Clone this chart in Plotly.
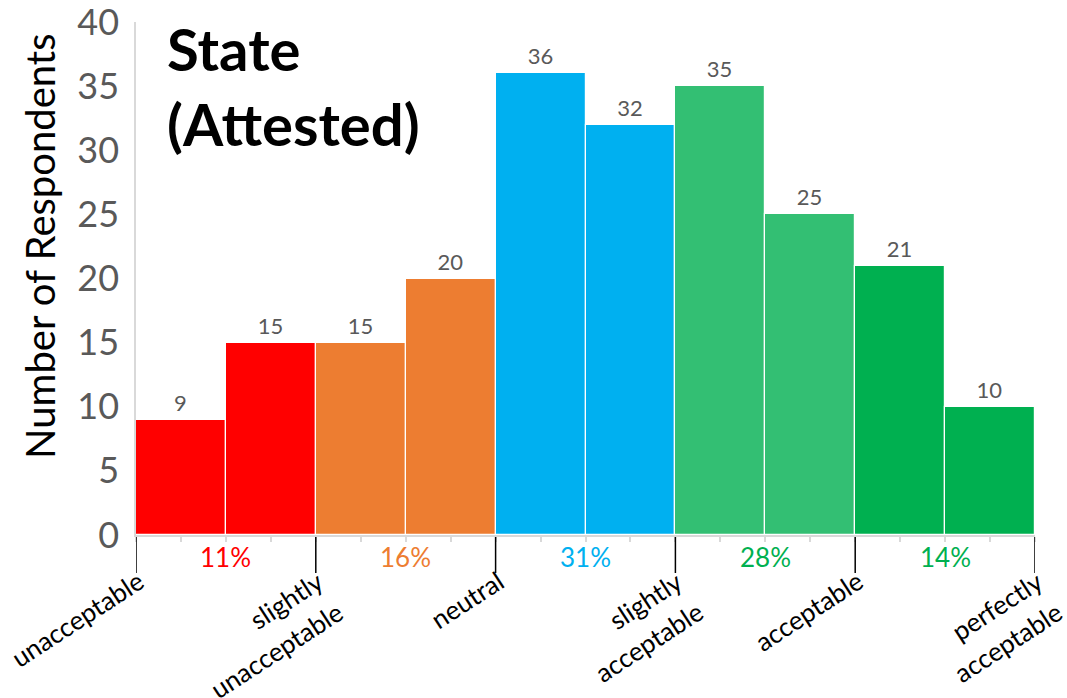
import plotly.graph_objects as go

# ---- data ----
bin_left = [0, 1, 2, 3, 4, 5, 6, 7, 8, 9]
counts = [9, 15, 15, 20, 36, 32, 35, 25, 21, 10]
bar_colors = ["#FF0000", "#FF0000", "#ED7D31", "#ED7D31", "#00B0F0",
              "#00B0F0", "#33BF73", "#33BF73", "#00B050", "#00B050"]
group_pct = ["11%", "16%", "31%", "28%", "14%"]
group_pct_colors = ["#FF0000", "#ED7D31", "#00B0F0", "#00B050", "#00B050"]
boundary_labels = [["unacceptable"], ["slightly", "unacceptable"], ["neutral"],
                   ["slightly", "acceptable"], ["acceptable"], ["perfectly", "acceptable"]]
y_ticks = [0, 5, 10, 15, 20, 25, 30, 35, 40]
title_text = "State<br>(Attested)"
y_title = "Number of Respondents"

FONT = "Lato"
W, H = 1067, 698
ML, MR, MT, MB = 136, 32, 22, 163
plot_w = W - ML - MR
plot_h = H - MT - MB

xc = [b + 0.5 for b in bin_left]
n_bins = len(bin_left)

fig = go.Figure()
fig.add_trace(go.Bar(
    x=xc, y=counts, width=1,
    marker=dict(color=bar_colors, line=dict(color="white", width=1.2)),
    text=[str(v) for v in counts], textposition="outside",
    textfont=dict(family=FONT, size=22, color="#595959"),
    cliponaxis=False, hoverinfo="skip",
))

shapes = []
annotations = []
major = list(range(0, n_bins + 1, 2))
ANGLE = 33
LINE_STEP_X, LINE_STEP_Y = 20, 31
for i, m in enumerate(major):
    shapes.append(dict(type="line", xref="x", yref="paper", x0=m, x1=m,
                       y0=-2 / plot_h, y1=-38 / plot_h,
                       line=dict(color="black", width=1.5)))
    for k, line in enumerate(boundary_labels[i]):
        annotations.append(dict(
            x=m, y=-38 / plot_h, xref="x", yref="paper",
            text=line, showarrow=False, textangle=-ANGLE,
            xanchor="right", yanchor="top",
            xshift=16 + k * LINE_STEP_X, yshift=11 - k * LINE_STEP_Y,
            font=dict(family=FONT, size=26, color="black")))

for g in range(len(group_pct)):
    annotations.append(dict(
        x=major[g] + 1, y=-22 / plot_h, xref="x", yref="paper",
        text=group_pct[g], showarrow=False, xanchor="center", yanchor="middle",
        font=dict(family=FONT, size=26, color=group_pct_colors[g])))

annotations.append(dict(
    x=(165 - ML) / plot_w, y=(plot_h + 10) / plot_h, xref="paper", yref="paper",
    text=title_text, showarrow=False, xanchor="left", yanchor="top", align="left",
    font=dict(family=FONT, size=58, color="black", weight="bold")))

annotations.append(dict(
    x=(40 - ML) / plot_w, y=(MT + plot_h - 247) / plot_h, xref="paper", yref="paper",
    text=y_title, showarrow=False, textangle=-90, xanchor="center", yanchor="middle",
    font=dict(family=FONT, size=40, color="black")))

fig.update_layout(
    width=W, height=H,
    margin=dict(l=ML, r=MR, t=MT, b=MB, pad=0, autoexpand=False),
    paper_bgcolor="white", plot_bgcolor="white",
    showlegend=False, bargap=0,
    shapes=shapes, annotations=annotations,
    font=dict(family=FONT),
)
fig.update_xaxes(
    range=[0, n_bins], showgrid=False, zeroline=False, automargin=False,
    showline=True, linecolor="#D9D9D9", linewidth=1.5,
    tickmode="array", tickvals=[v / 2 for v in range(0, 2 * n_bins + 1)],
    ticks="outside", ticklen=5, tickcolor="#D9D9D9", tickwidth=1.5,
    showticklabels=False,
)
fig.update_yaxes(
    range=[0, 40.0001], showgrid=False, zeroline=False, automargin=False,
    showline=True, linecolor="#D9D9D9", linewidth=1.5,
    tickmode="array", tickvals=y_ticks, ticks="",
    tickfont=dict(family=FONT, size=36, color="#595959"),
    ticklabelstandoff=8, ticklabeloverflow="allow",
)

fig.write_html("out.html")
